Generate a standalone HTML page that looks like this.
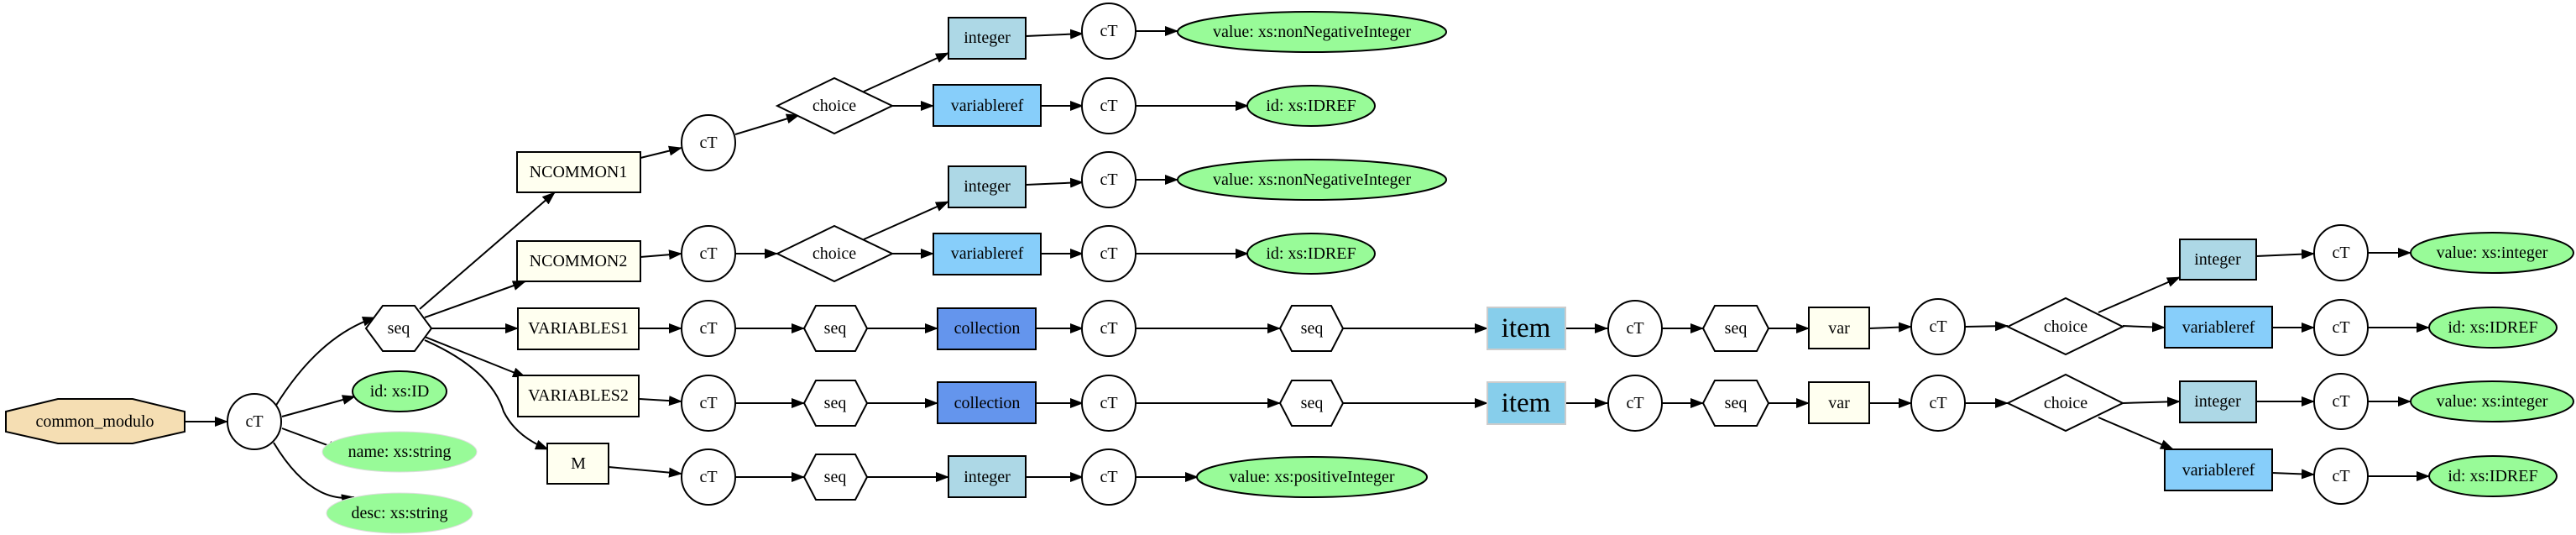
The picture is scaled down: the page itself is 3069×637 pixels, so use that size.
<!DOCTYPE html>
<html><head><meta charset="utf-8"><style>
html,body{margin:0;padding:0;background:#fff;}
svg{display:block;}
text{font-family:"Liberation Serif",serif;font-size:20px;text-anchor:middle;dominant-baseline:central;fill:#000;}
.e{fill:none;stroke:#000;stroke-width:2;}
.n{stroke:#000;stroke-width:2;}
</style></head><body>
<svg width="3069" height="637" viewBox="0 0 3069 637" xmlns="http://www.w3.org/2000/svg">
<defs><marker id="a" markerUnits="userSpaceOnUse" markerWidth="16" markerHeight="12" refX="15" refY="6" orient="auto"><path d="M0,0 L16,6 L0,12 z" fill="#000"/></marker></defs>

<!-- edges -->
<g class="e" marker-end="url(#a)">
<path d="M220,502 L271,502"/>
<path d="M328,484 Q380,400 447,378"/>
<path d="M336,496 L423,472"/>
<path d="M336,510 L406,536"/>
<path d="M326,527 Q370,600 422,592"/>
<path d="M500,368 L661,229"/>
<path d="M506,378 L626,335"/>
<path d="M514,391 L617,391"/>
<path d="M506,401 L626,449"/>
<path d="M506,405 Q585,440 600,490 Q615,520 653,535"/>
<path d="M763,188 L812,176"/>
<path d="M763,306 L812,302"/>
<path d="M761,391 L812,391"/>
<path d="M761,475 L812,478"/>
<path d="M725,556 L812,564"/>
<path d="M876,160 L952,137"/>
<path d="M876,302 L926,302"/>
<path d="M876,391 L958,391"/>
<path d="M876,480 L958,480"/>
<path d="M876,568 L958,568"/>
<!-- NC1 -->
<path d="M1029,109 L1130,63"/>
<path d="M1063,126 L1112,126"/>
<path d="M1222,43 L1290,40"/>
<path d="M1353,37 L1403,37"/>
<path d="M1240,126 L1290,126"/>
<path d="M1353,126 L1487,126"/>
<!-- NC2 -->
<path d="M1029,285 L1130,240"/>
<path d="M1063,302 L1112,302"/>
<path d="M1222,220 L1290,217"/>
<path d="M1353,214 L1403,214"/>
<path d="M1240,302 L1290,302"/>
<path d="M1353,302 L1487,302"/>
<!-- V rows -->
<path d="M1033,391 L1117,391"/><path d="M1234,391 L1290,391"/><path d="M1353,391 L1525,391"/><path d="M1600,391 L1772,391"/><path d="M1865,391 L1915,391"/><path d="M1980,391 L2029,391"/><path d="M2107,391 L2155,391"/><path d="M2227,391 L2277,389"/><path d="M2341,389 L2392,388"/>
<path d="M1033,480 L1117,480"/><path d="M1234,480 L1290,480"/><path d="M1353,480 L1525,480"/><path d="M1600,480 L1772,480"/><path d="M1865,480 L1915,480"/><path d="M1980,480 L2029,480"/><path d="M2107,480 L2155,480"/><path d="M2227,480 L2277,480"/><path d="M2341,480 L2392,480"/>
<path d="M2500,372 L2597,330"/><path d="M2529,388 L2579,390"/><path d="M2688,305 L2757,302"/><path d="M2821,301 L2872,301"/><path d="M2707,390 L2757,390"/><path d="M2821,390 L2894,390"/>
<path d="M2529,480 L2597,478"/><path d="M2500,497 L2589,535"/><path d="M2688,478 L2757,478"/><path d="M2821,478 L2872,478"/><path d="M2707,563 L2757,565"/><path d="M2821,567 L2894,567"/>
<!-- M row -->
<path d="M1033,568 L1130,568"/><path d="M1222,568 L1290,568"/><path d="M1353,568 L1427,568"/>
</g>

<!-- nodes -->
<polygon class="n" points="7,490 69,475 158,475 220,490 220,514 158,528 69,528 7,514" fill="#f5deb3"/>
<text x="113" y="502">common_modulo</text>
<ellipse class="n" cx="303" cy="502" rx="32" ry="33" fill="#fff"/><text x="303" y="502">cT</text>
<polygon class="n" points="436,391 456,364 494,364 514,391 494,418 456,418" fill="#fff"/><text x="475" y="391">seq</text>
<ellipse class="n" cx="476" cy="466" rx="56" ry="24" fill="#98fb98"/><text x="476" y="466">id: xs:ID</text>
<ellipse cx="476" cy="538" rx="92" ry="24" fill="#98fb98" stroke="#ddd"/><text x="476" y="538">name: xs:string</text>
<ellipse cx="476" cy="611" rx="87" ry="24" fill="#98fb98" stroke="#ddd"/><text x="476" y="611">desc: xs:string</text>

<rect class="n" x="616" y="181" width="147" height="48" fill="#fffff0"/><text x="689" y="205">NCOMMON1</text>
<rect class="n" x="616" y="287" width="147" height="48" fill="#fffff0"/><text x="689" y="311">NCOMMON2</text>
<rect class="n" x="617" y="367" width="144" height="49" fill="#fffff0"/><text x="689" y="391">VARIABLES1</text>
<rect class="n" x="617" y="447" width="144" height="49" fill="#fffff0"/><text x="689" y="471">VARIABLES2</text>
<rect class="n" x="652" y="528" width="73" height="48" fill="#fffff0"/><text x="689" y="552">M</text>

<g fill="#fff" class="n">
<ellipse cx="844" cy="170" rx="32" ry="33"/><ellipse cx="844" cy="302" rx="32" ry="33"/><ellipse cx="844" cy="391" rx="32" ry="33"/><ellipse cx="844" cy="480" rx="32" ry="33"/><ellipse cx="844" cy="568" rx="32" ry="33"/>
<polygon points="926,126 994,93 1063,126 994,159"/><polygon points="926,302 994,269 1063,302 994,335"/>
<polygon points="958,391 972,364 1019,364 1033,391 1019,418 972,418"/>
<polygon points="958,480 972,453 1019,453 1033,480 1019,507 972,507"/>
<polygon points="958,568 972,541 1019,541 1033,568 1019,595 972,595"/>
</g>
<text x="844" y="170">cT</text><text x="844" y="302">cT</text><text x="844" y="391">cT</text><text x="844" y="480">cT</text><text x="844" y="568">cT</text>
<text x="994" y="126">choice</text><text x="994" y="302">choice</text>
<text x="995" y="391">seq</text><text x="995" y="480">seq</text><text x="995" y="568">seq</text>

<!-- column 1130-1240 -->
<rect class="n" x="1130" y="21" width="92" height="49" fill="#add8e6"/><text x="1176" y="45">integer</text>
<rect class="n" x="1112" y="101" width="128" height="49" fill="#87cefa"/><text x="1176" y="126">variableref</text>
<rect class="n" x="1130" y="198" width="92" height="49" fill="#add8e6"/><text x="1176" y="222">integer</text>
<rect class="n" x="1112" y="278" width="128" height="49" fill="#87cefa"/><text x="1176" y="302">variableref</text>
<rect class="n" x="1117" y="367" width="117" height="49" fill="#6495ed"/><text x="1176" y="391">collection</text>
<rect class="n" x="1117" y="455" width="117" height="49" fill="#6495ed"/><text x="1176" y="480">collection</text>
<rect class="n" x="1130" y="543" width="92" height="49" fill="#add8e6"/><text x="1176" y="568">integer</text>

<g fill="#fff" class="n">
<ellipse cx="1321" cy="37" rx="32" ry="33"/><ellipse cx="1321" cy="126" rx="32" ry="33"/><ellipse cx="1321" cy="214" rx="32" ry="33"/><ellipse cx="1321" cy="302" rx="32" ry="33"/><ellipse cx="1321" cy="391" rx="32" ry="33"/><ellipse cx="1321" cy="480" rx="32" ry="33"/><ellipse cx="1321" cy="568" rx="32" ry="33"/>
<polygon points="1525,391 1539,364 1586,364 1600,391 1586,418 1539,418"/>
<polygon points="1525,480 1539,453 1586,453 1600,480 1586,507 1539,507"/>
</g>
<text x="1321" y="37">cT</text><text x="1321" y="126">cT</text><text x="1321" y="214">cT</text><text x="1321" y="302">cT</text><text x="1321" y="391">cT</text><text x="1321" y="480">cT</text><text x="1321" y="568">cT</text>
<text x="1563" y="391">seq</text><text x="1563" y="480">seq</text>

<g class="n" fill="#98fb98">
<ellipse cx="1563" cy="38" rx="160" ry="24"/><ellipse cx="1562" cy="126" rx="76" ry="24"/><ellipse cx="1563" cy="214" rx="160" ry="24"/><ellipse cx="1562" cy="302" rx="76" ry="24"/><ellipse cx="1563" cy="568" rx="137" ry="24"/>
</g>
<text x="1563" y="38">value: xs:nonNegativeInteger</text><text x="1562" y="126">id: xs:IDREF</text>
<text x="1563" y="214">value: xs:nonNegativeInteger</text><text x="1562" y="302">id: xs:IDREF</text>
<text x="1563" y="568">value: xs:positiveInteger</text>

<rect x="1772" y="366" width="93" height="50" fill="#87ceeb" stroke="#ccc" stroke-width="2"/><text x="1818" y="391" style="font-size:33px">item</text>
<rect x="1772" y="455" width="93" height="50" fill="#87ceeb" stroke="#ccc" stroke-width="2"/><text x="1818" y="480" style="font-size:33px">item</text>

<g fill="#fff" class="n">
<ellipse cx="1948" cy="391" rx="32" ry="33"/><ellipse cx="1948" cy="480" rx="32" ry="33"/>
<polygon points="2029,391 2043,364 2093,364 2107,391 2093,418 2043,418"/>
<polygon points="2029,480 2043,453 2093,453 2107,480 2093,507 2043,507"/>
<ellipse cx="2309" cy="389" rx="32" ry="33"/><ellipse cx="2309" cy="480" rx="32" ry="33"/>
<polygon points="2392,389 2461,355 2529,389 2461,422"/>
<polygon points="2392,480 2461,446 2529,480 2461,513"/>
<ellipse cx="2789" cy="301" rx="32" ry="33"/><ellipse cx="2789" cy="390" rx="32" ry="33"/><ellipse cx="2789" cy="478" rx="32" ry="33"/><ellipse cx="2789" cy="567" rx="32" ry="33"/>
</g>
<rect class="n" x="2155" y="366" width="72" height="49" fill="#fffff0"/><text x="2191" y="391">var</text>
<rect class="n" x="2155" y="455" width="72" height="49" fill="#fffff0"/><text x="2191" y="480">var</text>
<text x="1948" y="391">cT</text><text x="1948" y="480">cT</text>
<text x="2068" y="391">seq</text><text x="2068" y="480">seq</text>
<text x="2309" y="389">cT</text><text x="2309" y="480">cT</text>
<text x="2461" y="389">choice</text><text x="2461" y="480">choice</text>

<rect class="n" x="2597" y="285" width="91" height="48" fill="#add8e6"/><text x="2642" y="309">integer</text>
<rect class="n" x="2579" y="365" width="128" height="49" fill="#87cefa"/><text x="2643" y="390">variableref</text>
<rect class="n" x="2597" y="454" width="91" height="49" fill="#add8e6"/><text x="2642" y="478">integer</text>
<rect class="n" x="2579" y="535" width="128" height="49" fill="#87cefa"/><text x="2643" y="560">variableref</text>
<text x="2789" y="301">cT</text><text x="2789" y="390">cT</text><text x="2789" y="478">cT</text><text x="2789" y="567">cT</text>

<g class="n" fill="#98fb98">
<ellipse cx="2969" cy="301" rx="97" ry="24"/><ellipse cx="2970" cy="390" rx="76" ry="24"/><ellipse cx="2969" cy="478" rx="97" ry="24"/><ellipse cx="2970" cy="567" rx="76" ry="24"/>
</g>
<text x="2969" y="301">value: xs:integer</text><text x="2970" y="390">id: xs:IDREF</text>
<text x="2969" y="478">value: xs:integer</text><text x="2970" y="567">id: xs:IDREF</text>
</svg>
</body></html>
